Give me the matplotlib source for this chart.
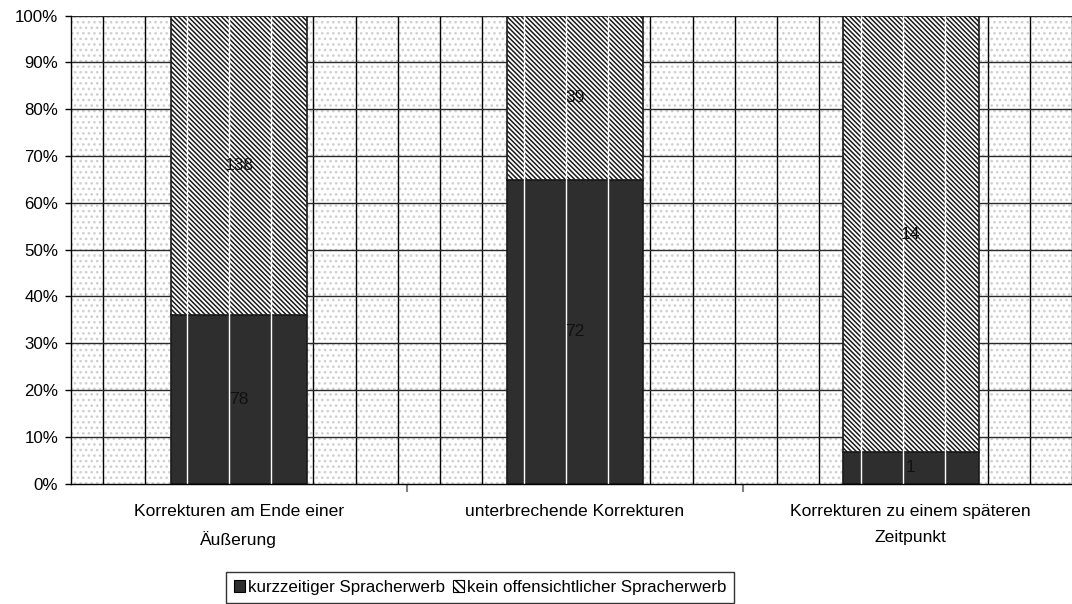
import matplotlib
matplotlib.use("Agg")
import matplotlib.pyplot as plt
import numpy as np
from matplotlib.patches import Patch, Rectangle

plt.rcParams['font.family'] = ['Liberation Sans', 'DejaVu Sans']
plt.rcParams['hatch.linewidth'] = 1.1

categories = ["Korrekturen am Ende einer\nÄußerung",
              "unterbrechende Korrekturen",
              "Korrekturen zu einem späteren\nZeitpunkt"]
series_names = ["kurzzeitiger Spracherwerb", "kein offensichtlicher Spracherwerb"]
kurz = [78, 72, 1]
kein = [138, 39, 14]
y_ticks = [0, 10, 20, 30, 40, 50, 60, 70, 80, 90, 100]
y_labels = [f"{t}%" for t in y_ticks]

kurz_a = np.array(kurz, float)
kein_a = np.array(kein, float)
tot = kurz_a + kein_a
p_kurz = kurz_a / tot * 100
p_kein = kein_a / tot * 100

W, H = 1072, 604
fig = plt.figure(figsize=(W / 100, H / 100), dpi=100)
left, right = 70.8, 70.8 + 1008
top, bottom = 15.7, 483.5
ax = fig.add_axes([left / W, 1 - bottom / H, (right - left) / W, (bottom - top) / H])

x = np.arange(len(categories))
ax.set_xlim(-0.5, len(categories) - 0.5)
ax.set_ylim(0, 100)

FS = 12.6

# dotted plot-area background
ax.set_facecolor('white')
bg = Rectangle((0, 0), 1, 1, transform=ax.transAxes, facecolor='white',
               edgecolor='#d0d0d0', hatch='...', lw=0, zorder=0)
ax.add_patch(bg)

# background pattern vertical lines and horizontal gridlines
vpos = np.arange(-0.405, 2.5, 0.1254)
ax.vlines(vpos, 0, 100, colors='black', lw=1.0, zorder=1)
ax.hlines(y_ticks[1:], -0.5, 2.5, colors='#2a2a2a', lw=1.0, zorder=1)

bw = 0.403
b1 = ax.bar(x, p_kurz, bw, color='#2e2e2e', edgecolor='#1a1a1a', lw=1.2, zorder=3,
            label=series_names[0])
b2 = ax.bar(x, p_kein, bw, bottom=p_kurz, facecolor='white', edgecolor='#1a1a1a',
            hatch='\\\\\\\\\\\\\\', lw=1.2, zorder=3, label=series_names[1])

# white pattern lines through the bars
for patch in list(b1.patches) + list(b2.patches):
    lc = ax.vlines(vpos, 0, 100, colors='white', lw=1.0, zorder=4)
    lc.set_clip_path(patch)

# value labels
for i in range(len(categories)):
    ax.text(x[i], p_kurz[i] / 2, str(kurz[i]), ha='center', va='center',
            fontsize=FS, color='#111111', zorder=5)
    ax.text(x[i], p_kurz[i] + p_kein[i] / 2, str(kein[i]), ha='center', va='center',
            fontsize=FS, color='#111111', zorder=5)

ax.set_yticks(y_ticks)
ax.set_yticklabels(y_labels, fontsize=12.2)
ax.set_xticks(x)
ax.set_xticklabels(categories, fontsize=FS, linespacing=1.85)
ax.tick_params(axis='x', length=0, pad=15)
ax.set_xticks([0.5, 1.5], minor=True)
ax.tick_params(axis='x', which='minor', length=6, color='#808080', width=1.5)
ax.tick_params(axis='y', length=4, width=1, pad=5)

for s in ['top', 'right']:
    ax.spines[s].set_visible(False)
for s in ['left', 'bottom']:
    ax.spines[s].set_color('black')
    ax.spines[s].set_linewidth(1.0)
    ax.spines[s].set_zorder(6)

handles = [Patch(facecolor='#2e2e2e', edgecolor='black', lw=0.8),
           Patch(facecolor='white', edgecolor='black', hatch='\\\\\\\\', lw=0.8)]
leg = fig.legend(handles, series_names, loc='lower center',
                 bbox_to_anchor=(480 / W, 1.5 / H), ncol=2, fontsize=12.2,
                 frameon=True, fancybox=False, edgecolor='black',
                 handlelength=0.7, handleheight=0.7, handletextpad=0.15,
                 columnspacing=0.45, borderpad=0.45, borderaxespad=0)
leg.get_frame().set_linewidth(1.0)

fig.savefig('out.png', dpi=100)
